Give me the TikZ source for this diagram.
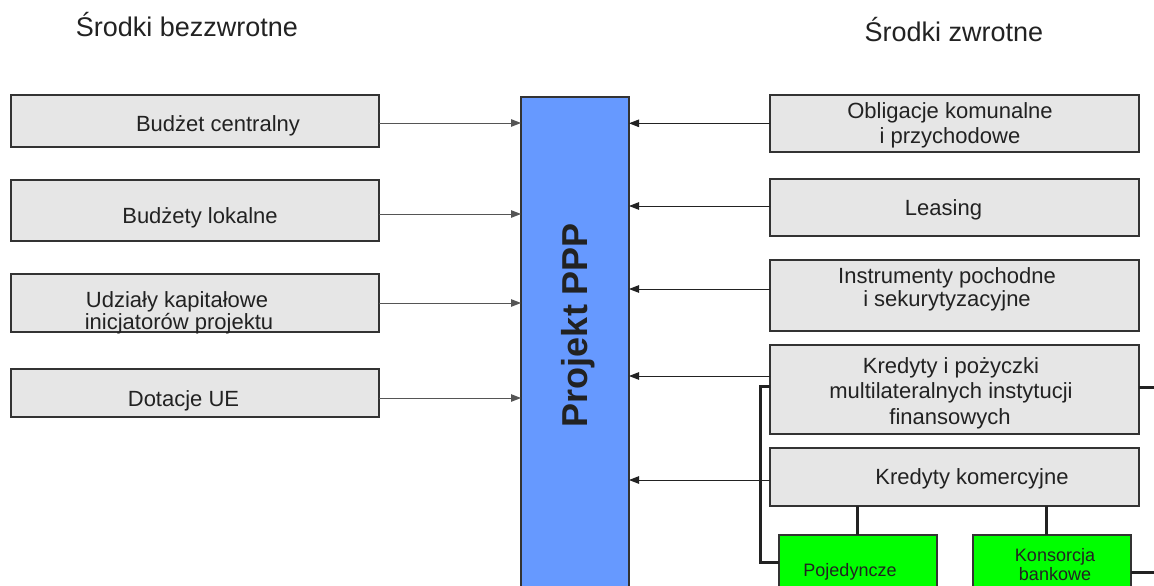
\documentclass[tikz,border=0pt]{standalone}
\usepackage{fontspec}
\setmainfont{Liberation Sans}
\usetikzlibrary{arrows.meta}
\definecolor{boxgray}{HTML}{E6E6E6}
\definecolor{edgec}{HTML}{333333}
\definecolor{pppblue}{HTML}{6699FF}
\definecolor{grn}{HTML}{00FF00}
\definecolor{txtc}{HTML}{222222}
\definecolor{arrgray}{HTML}{555555}
\begin{document}
\begin{tikzpicture}[x=1pt,y=-1pt,
  box/.style={draw=edgec, line width=1.2pt, fill=boxgray, inner sep=0pt, outer sep=0pt, anchor=north west},
  greenbox/.style={box, fill=grn},
  bluebox/.style={box, fill=pppblue},
  lbl/.style={anchor=base, inner sep=0pt, text=txtc, font=\fontsize{22pt}{25pt}\selectfont},
  smalllbl/.style={lbl, font=\fontsize{18pt}{21pt}\selectfont},
  title/.style={anchor=base, inner sep=0pt, text=txtc, font=\fontsize{27pt}{30pt}\selectfont},
  arrl/.style={draw=arrgray, line width=1pt, -{Triangle[length=10pt,width=7.5pt]}},
  arrr/.style={draw=txtc, line width=1pt, -{Triangle[length=10pt,width=7.5pt]}},
  thick link/.style={draw=txtc, line width=3pt, line cap=butt, line join=miter}
]
\useasboundingbox (0,0) rectangle (1154,586);
\clip (0,0) rectangle (1154,586);
\fill[white] (0,0) rectangle (1154,586);

% titles
\node[title] (tleft) at (187,37) {Środki bezzwrotne};
\node[title] (tright) at (954,42) {Środki zwrotne};

% central box
\node[bluebox, minimum width=108pt, minimum height=510pt] (ppp) at (521,97) {};
\node[anchor=base, rotate=90, inner sep=0pt, text=txtc, font=\fontsize{36pt}{40pt}\selectfont\bfseries] (ppptxt) at (587,325) {Projekt PPP};

% left boxes
\node[box, minimum width=368pt, minimum height=52pt] (l1) at (11,95) {};
\node[box, minimum width=368pt, minimum height=61pt] (l2) at (11,180) {};
\node[box, minimum width=368pt, minimum height=58pt] (l3) at (11,274) {};
\node[box, minimum width=368pt, minimum height=48pt] (l4) at (11,369) {};
\node[lbl] (l1t) at (218,131) {Budżet centralny};
\node[lbl] (l2t) at (200,223) {Budżety lokalne};
\node[lbl] (l3ta) at (177,307.5) {Udziały kapitałowe};
\node[lbl] (l3tb) at (179,329) {inicjatorów projektu};
\node[lbl] (l4t) at (183.5,406.5) {Dotacje UE};

% right boxes
\node[box, minimum width=369pt, minimum height=57pt] (r1) at (770,95) {};
\node[box, minimum width=369pt, minimum height=57pt] (r2) at (770,179) {};
\node[box, minimum width=369pt, minimum height=71pt] (r3) at (770,260) {};
\node[box, minimum width=369pt, minimum height=89pt] (r4) at (770,345) {};
\node[box, minimum width=369pt, minimum height=58pt] (r5) at (770,448) {};
\node[lbl] (r1ta) at (950,118.3) {Obligacje komunalne};
\node[lbl] (r1tb) at (950,143.3) {i przychodowe};
\node[lbl] (r2t) at (943.5,215) {Leasing};
\node[lbl] (r3ta) at (947,283.3) {Instrumenty pochodne};
\node[lbl] (r3tb) at (947,306.7) {i sekurytyzacyjne};
\node[lbl] (r4ta) at (951,373.3) {Kredyty i pożyczki};
\node[lbl] (r4tb) at (951,398.3) {multilateralnych instytucji};
\node[lbl] (r4tc) at (950,424) {finansowych};
\node[lbl] (r5t) at (972,484) {Kredyty komercyjne};

% green boxes
\node[greenbox, minimum width=158pt, minimum height=80pt] (g1) at (779,535) {};
\node[greenbox, minimum width=158pt, minimum height=80pt] (g2) at (973,535) {};
\node[smalllbl] (g1t) at (850,576) {Pojedyncze};
\node[smalllbl] (g2ta) at (1055,561.7) {Konsorcja};
\node[smalllbl] (g2tb) at (1055,580.7) {bankowe};

% arrows left
\draw[arrl] (l1.east |- 0,123) -- (ppp.west |- 0,123);
\draw[arrl] (l2.east |- 0,214) -- (ppp.west |- 0,214);
\draw[arrl] (l3.east |- 0,303) -- (ppp.west |- 0,303);
\draw[arrl] (l4.east |- 0,398) -- (ppp.west |- 0,398);

% arrows right
\draw[arrr] (r1.west |- 0,123.3) -- (ppp.east |- 0,123.3);
\draw[arrr] (r2.west |- 0,206) -- (ppp.east |- 0,206);
\draw[arrr] (r3.west |- 0,289) -- (ppp.east |- 0,289);
\draw[arrr] (r4.west |- 0,376) -- (ppp.east |- 0,376);
\draw[arrr] (r5.west |- 0,480) -- (ppp.east |- 0,480);

% thick links
\coordinate (redge1) at (1160,387);
\coordinate (redge2) at (1160,572);
\draw[thick link] (r4.west |- 0,386.5) -- (760,386.5) -- (760,562) -- (g1.west |- 0,562);
\draw[thick link] (r4.east |- 0,387) -- (redge1);
\draw[thick link] (g2.east |- 0,572) -- (redge2);
\draw[thick link] (r5.south -| 857,0) -- (g1.north -| 857,0);
\draw[thick link] (r5.south -| 1046,0) -- (g2.north -| 1046,0);
\end{tikzpicture}
\end{document}
